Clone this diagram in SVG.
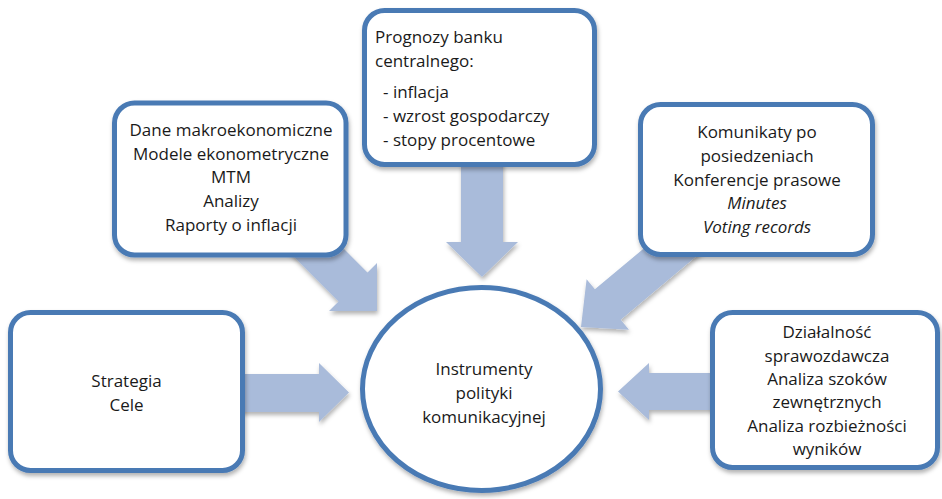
<svg xmlns="http://www.w3.org/2000/svg" width="942" height="499" viewBox="0 0 942 499">
<defs>
<filter id="sh" x="-10%" y="-10%" width="125%" height="130%">
<feDropShadow dx="1" dy="3" stdDeviation="2" flood-color="#000" flood-opacity="0.3"/>
</filter>
<style>
.box{fill:#fff;stroke:#4a7ab4;stroke-width:5;filter:url(#sh)}
.arr{fill:#a9bbda;stroke:none;filter:url(#sh)}
text{font-family:"Open Sans","Liberation Sans",sans-serif;font-size:17px;fill:#1a1a1a}
.c{text-anchor:middle}
.i{font-style:italic}
</style>
</defs>
<rect width="942" height="499" fill="#fff"/>
<g id="connectors">
<polygon class="arr" points="235,374 319,374 319,363 349,392.5 319,422 319,412 235,412"/>
<polygon class="arr" points="718,373 649,373 649,363 618,391.5 649,420 649,410 718,410"/>
<polygon class="arr" points="461,160 503,160 503,242 518,242 482,277 446,242 461,242"/>
<polygon class="arr" points="296.8,201.8 367.5,272.5 377,263 377,311 329,311 338.5,301.5 267.8,230.8"/>
<polygon class="arr" points="705,249 620.7,319.8 629,329.8 581,327 586.6,279.2 594.9,289.2 679.8,218.5"/>
</g>
<g id="strategia">
<rect class="box" x="10.5" y="312.5" width="232" height="158" rx="20"/>
<text class="c" x="126.5" y="387">Strategia</text>
<text class="c" x="126.5" y="410.7">Cele</text>
</g>
<g id="dane">
<rect class="box" x="114.5" y="103" width="231.5" height="152" rx="20"/>
<text class="c" x="231" y="136">Dane makroekonomiczne</text>
<text class="c" x="231" y="159.7">Modele ekonometryczne</text>
<text class="c" x="231" y="183.4">MTM</text>
<text class="c" x="231" y="207">Analizy</text>
<text class="c" x="231" y="230.7">Raporty o inflacji</text>
</g>
<g id="prognozy">
<rect class="box" x="364.5" y="10.5" width="230" height="154" rx="20"/>
<text x="375" y="43.3">Prognozy banku</text>
<text x="375" y="66.7">centralnego:</text>
<text x="383" y="98.3">- inflacja</text>
<text x="383" y="121.9">- wzrost gospodarczy</text>
<text x="383" y="145.6">- stopy procentowe</text>
</g>
<g id="komunikaty">
<rect class="box" x="640.5" y="104.5" width="232" height="150" rx="20"/>
<text class="c" x="757" y="138.3">Komunikaty po</text>
<text class="c" x="757" y="162">posiedzeniach</text>
<text class="c" x="757" y="185.6">Konferencje prasowe</text>
<text class="c i" x="757" y="209.3">Minutes</text>
<text class="c i" x="757" y="232.9">Voting records</text>
</g>
<g id="dzialalnosc">
<rect class="box" x="712.5" y="312.5" width="225" height="155" rx="20"/>
<text class="c" x="827" y="338.3">Działalność</text>
<text class="c" x="827" y="361.7">sprawozdawcza</text>
<text class="c" x="827" y="385">Analiza szoków</text>
<text class="c" x="827" y="408.4">zewnętrznych</text>
<text class="c" x="827" y="431.7">Analiza rozbieżności</text>
<text class="c" x="827" y="455">wyników</text>
</g>
<g id="instrumenty">
<ellipse class="box" cx="481.5" cy="389" rx="119" ry="101.5"/>
<text class="c" x="484" y="375">Instrumenty</text>
<text class="c" x="484" y="399.3">polityki</text>
<text class="c" x="484" y="422.7">komunikacyjnej</text>
</g>
</svg>
